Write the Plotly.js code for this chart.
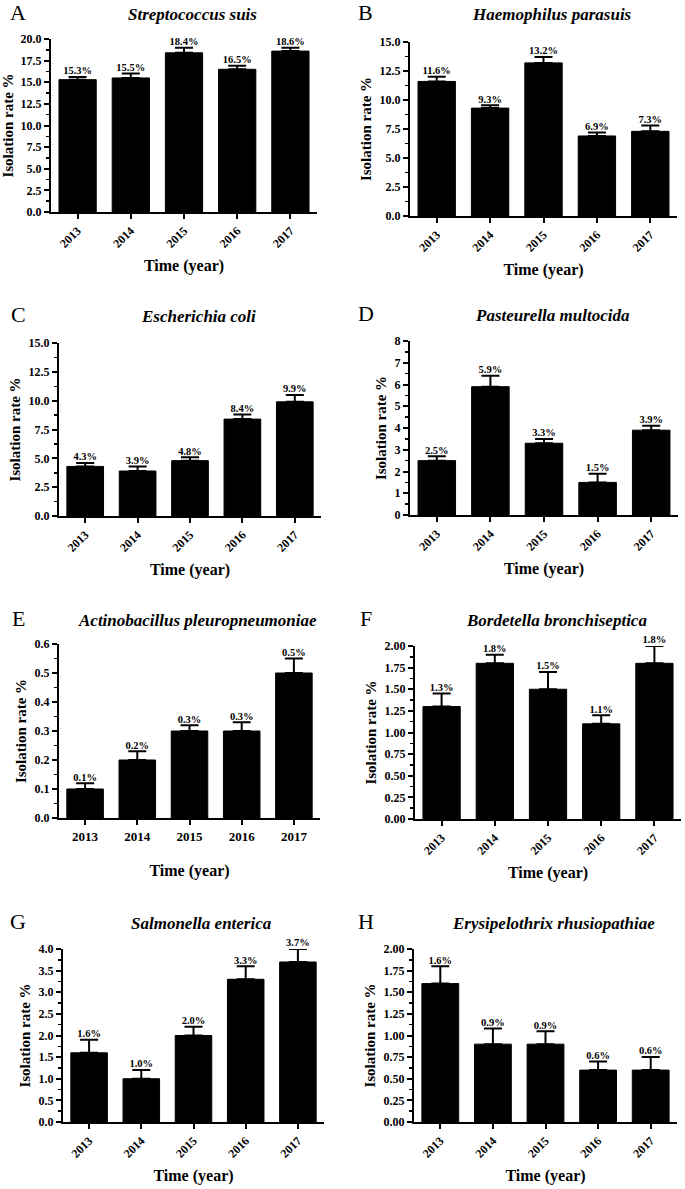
<!DOCTYPE html>
<html>
<head>
<meta charset="utf-8">
<script src="https://cdn.plot.ly/plotly-3.0.1.min.js"></script>
<style>html,body{margin:0;padding:0;background:#fff;}#chart{width:685px;height:1189px;}</style>
</head>
<body>
<div id="chart"></div>
<script>
// ---- data ----
const years = ['2013', '2014', '2015', '2016', '2017'];

const letters = ['A', 'B', 'C', 'D', 'E', 'F', 'G', 'H'];
const species = ['Streptococcus suis', 'Haemophilus parasuis', 'Escherichia coli', 'Pasteurella multocida',
  'Actinobacillus pleuropneumoniae', 'Bordetella bronchiseptica', 'Salmonella enterica', 'Erysipelothrix rhusiopathiae'];

const valuesA = [15.3, 15.5, 18.4, 16.5, 18.6];
const errorsA = [0.3, 0.5, 0.6, 0.4, 0.4];
const valuesB = [11.6, 9.3, 13.2, 6.9, 7.3];
const errorsB = [0.4, 0.25, 0.5, 0.3, 0.5];
const valuesC = [4.3, 3.9, 4.8, 8.4, 9.9];
const errorsC = [0.3, 0.4, 0.3, 0.4, 0.6];
const valuesD = [2.5, 5.9, 3.3, 1.5, 3.9];
const errorsD = [0.2, 0.5, 0.2, 0.4, 0.2];
const valuesE = [0.1, 0.2, 0.3, 0.3, 0.5];
const errorsE = [0.02, 0.03, 0.02, 0.03, 0.05];
const valuesF = [1.3, 1.8, 1.5, 1.1, 1.8];
const errorsF = [0.15, 0.1, 0.2, 0.1, 0.2];
const valuesG = [1.6, 1.0, 2.0, 3.3, 3.7];
const errorsG = [0.3, 0.2, 0.2, 0.3, 0.3];
const valuesH = [1.6, 0.9, 0.9, 0.6, 0.6];
const errorsH = [0.2, 0.18, 0.15, 0.1, 0.15];

const yMax = [20, 15, 15, 8, 0.6, 2, 4, 2];
const yTickStep = [2.5, 2.5, 2.5, 1, 0.1, 0.25, 0.5, 0.25];
const yTickFormat = ['.1f', '.1f', '.1f', 'd', '.1f', '.2f', '.1f', '.2f'];

const allValues = [valuesA, valuesB, valuesC, valuesD, valuesE, valuesF, valuesG, valuesH];
const allErrors = [errorsA, errorsB, errorsC, errorsD, errorsE, errorsF, errorsG, errorsH];

// ---- layout geometry (pixels) ----
const W = 685, H = 1189;
const boxes = [
  [51, 317, 39, 212],
  [410, 677, 42, 216],
  [59, 321, 343, 516],
  [410, 678, 341, 515],
  [59, 320, 644, 818],
  [415, 681, 646, 819],
  [63, 324, 949, 1122],
  [414, 677, 949, 1122]
];
const titleY = [14, 14, 316, 315, 620, 620, 923, 923];
const letterX = [18, 366, 18, 366, 18, 366, 18, 366];

const serif = 'Liberation Serif, Times New Roman, serif';
const traces = [];
const layout = {
  width: W, height: H,
  margin: {l: 0, r: 0, t: 0, b: 0},
  paper_bgcolor: '#fff', plot_bgcolor: '#fff',
  showlegend: false,
  font: {family: serif, color: '#000'},
  annotations: []
};

for (let i = 0; i < 8; i++) {
  const n = i + 1;
  const xa = n === 1 ? 'x' : 'x' + n;
  const ya = n === 1 ? 'y' : 'y' + n;
  const vals = allValues[i], errs = allErrors[i];
  traces.push({
    type: 'bar', x: years, y: vals, xaxis: xa, yaxis: ya,
    width: 0.7,
    marker: {color: '#000', line: {color: '#000', width: 1}},
    error_y: {type: 'data', symmetric: false, array: errs, arrayminus: errs.map(() => 0),
      color: '#000', thickness: 2, width: 9},
    hoverinfo: 'skip'
  });
  traces.push({
    type: 'scatter', mode: 'text', x: years, y: vals.map((v, k) => v + errs[k]),
    xaxis: xa, yaxis: ya,
    text: vals.map(v => v.toFixed(1) + '%'),
    textposition: 'top center',
    textfont: {family: serif, size: 10.5, color: '#000', weight: 'bold'},
    cliponaxis: false, hoverinfo: 'skip'
  });
  const b = boxes[i];
  const axisFont = {family: serif, size: 12, color: '#000', weight: 'bold'};
  layout['xaxis' + (n === 1 ? '' : n)] = {
    domain: [b[0] / W, b[1] / W], anchor: ya,
    type: 'category', range: [-0.5, 4.5],
    showline: true, linecolor: '#000', linewidth: 2,
    ticks: 'outside', ticklen: 5, tickwidth: 2, tickcolor: '#000',
    showgrid: false, zeroline: false, fixedrange: true,
    tickangle: i === 4 ? 0 : -45,
    tickfont: i === 4 ? {family: serif, size: 13, color: '#000', weight: 'bold'} : axisFont,
    title: {text: 'Time (year)', font: {family: serif, size: 16, color: '#000', weight: 'bold'},
      standoff: i === 4 ? 22 : 10}
  };
  layout['yaxis' + (n === 1 ? '' : n)] = {
    domain: [1 - b[3] / H, 1 - b[2] / H], anchor: xa,
    range: [0, yMax[i]], dtick: yTickStep[i], tick0: 0, tickformat: yTickFormat[i],
    showline: true, linecolor: '#000', linewidth: 2,
    ticks: 'outside', ticklen: 5, tickwidth: 2, tickcolor: '#000',
    minor: {dtick: yTickStep[i] / 2, ticks: 'outside', ticklen: 3, tickwidth: 1.5, tickcolor: '#000', showgrid: false},
    showgrid: false, zeroline: false, fixedrange: true,
    tickfont: axisFont,
    title: {text: 'Isolation rate %', font: {family: serif, size: 15, color: '#000', weight: 'bold'}, standoff: 4}
  };
  layout.annotations.push({
    xref: 'paper', yref: 'paper', x: ((b[0] + b[1]) / 2 + 8) / W, y: 1 - titleY[i] / H,
    text: '<b><i>' + species[i] + '</i></b>', showarrow: false,
    font: {family: serif, size: 17, color: '#000'}, xanchor: 'center', yanchor: 'middle'
  });
  layout.annotations.push({
    xref: 'paper', yref: 'paper', x: letterX[i] / W, y: 1 - (titleY[i] - 2) / H,
    text: letters[i], showarrow: false,
    font: {family: serif, size: 22, color: '#000'}, xanchor: 'center', yanchor: 'middle'
  });
}

Plotly.newPlot('chart', traces, layout, {displayModeBar: false, staticPlot: true});
</script>
</body>
</html>
